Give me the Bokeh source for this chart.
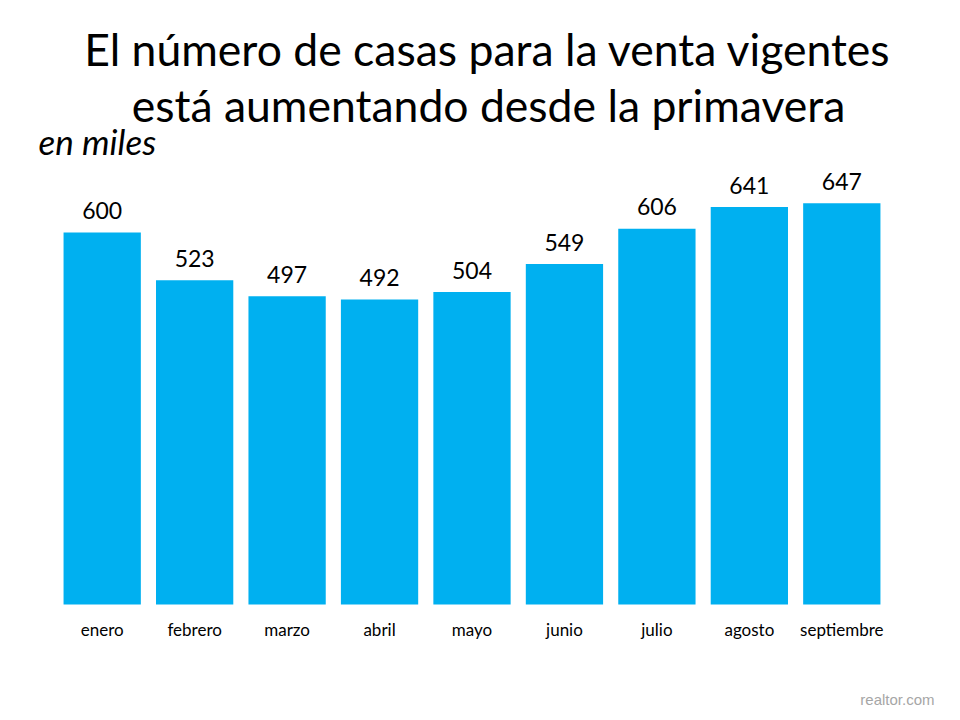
from bokeh.plotting import figure
from bokeh.models import FactorRange, Range1d, Label, ColumnDataSource
from bokeh.core.properties import value
from bokeh.embed import file_html
from bokeh.resources import INLINE

months = ["enero", "febrero", "marzo", "abril", "mayo", "junio", "julio", "agosto", "septiembre"]
listings = [600, 523, 497, 492, 504, 549, 606, 641, 647]
labels = [str(v) for v in listings]

title_1 = "El número de casas para la venta vigentes"
title_2 = "está aumentando desde la primavera"
subtitle = "en miles"
source_note = "realtor.com"

FONT = "Lato"

src = ColumnDataSource(dict(month=months, listings=listings, label=labels,
                            base=[0] * len(months)))

p = figure(width=952, height=712, title=None,
           x_range=FactorRange(*months, range_padding=0.6, range_padding_units="absolute"),
           y_range=Range1d(-174.2, 974.2), output_backend="svg", toolbar_location=None,
           x_axis_location=None, y_axis_location=None, min_border_left=0, min_border_right=9,
           min_border_top=0, min_border_bottom=0)
p.outline_line_color = None
p.xgrid.grid_line_color = None
p.ygrid.grid_line_color = None
p.background_fill_color = "white"
p.border_fill_color = "white"

p.vbar(x="month", top="listings", bottom="base", width=0.836, source=src,
       fill_color="#00B0F0", line_color=None)
# value labels above bars
p.text(x="month", y="listings", text="label", source=src, y_offset=-22,
       text_align="center", text_baseline="alphabetic", text_font=value(FONT),
       text_font_size="23px", text_color="#000000")
# category labels under the bars
p.text(x="month", y="base", text="month", source=src, y_offset=25,
       text_align="center", text_baseline="alphabetic", text_font=value(FONT),
       text_font_size="17px", text_color="#000000")

def lab(text, x, y, size, align="center", style="normal", color="#000000", font=FONT):
    p.add_layout(Label(x=x, y=y, x_units="screen", y_units="screen", text=text,
                       text_align=align, text_baseline="alphabetic", text_font=font,
                       text_font_size=size, text_font_style=style, text_color=color))

lab(title_1, 487.5, 664, "44.5px")
lab(title_2, 488, 608, "44.5px")
lab(subtitle, 38, 572, "35px", align="left", style="italic")
lab(source_note, 934, 13, "15px", align="right", color="#a6a6a6", font="Liberation Sans")

open("out.html", "w").write(file_html(p, INLINE))
